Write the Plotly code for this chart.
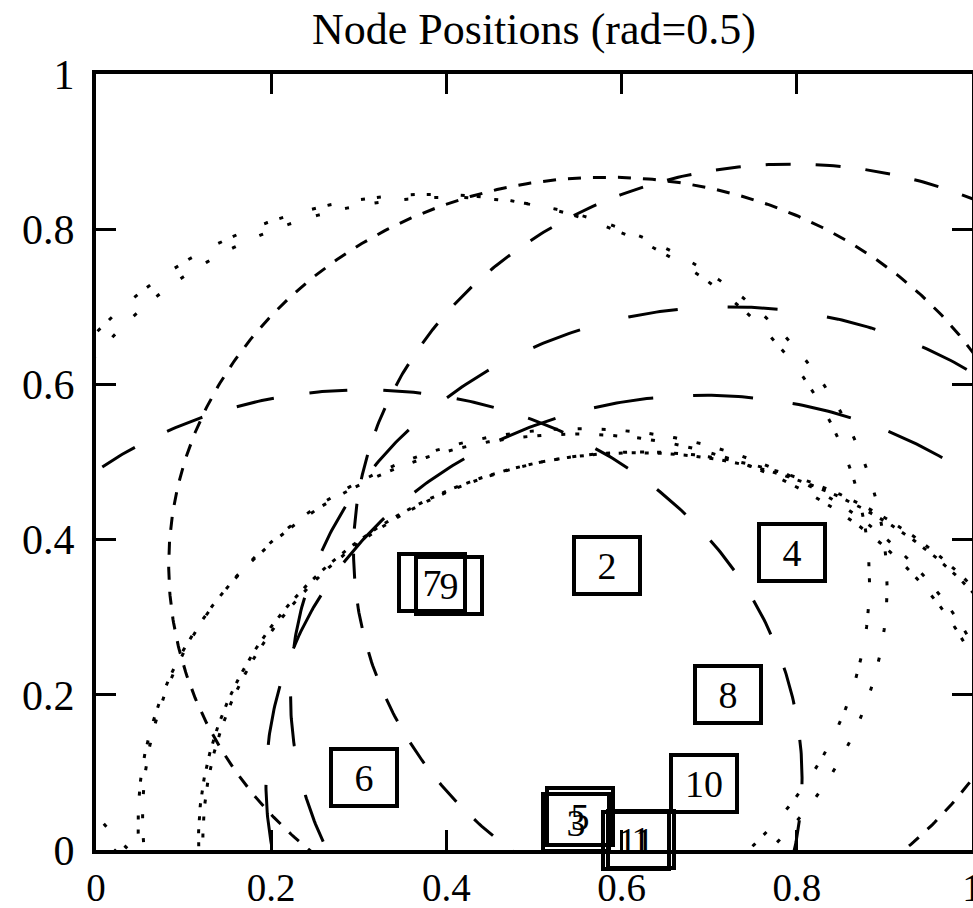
import numpy as np
import plotly.graph_objects as go

# Node layout: every node gets a circle of radius RADIUS around it
RADIUS = 0.5
node_ids = [1, 2, 3, 4, 5, 6, 7, 8, 9, 10, 11]
node_x = [0.622, 0.583, 0.548, 0.794, 0.553, 0.306, 0.383, 0.722, 0.403, 0.694, 0.617]
node_y = [0.013, 0.367, 0.036, 0.384, 0.043, 0.093, 0.345, 0.200, 0.341, 0.086, 0.012]
tick_vals = [0, 0.2, 0.4, 0.6, 0.8, 1]
tick_text = ["0", "0.2", "0.4", "0.6", "0.8", "1"]

# Line style per node (even nodes dashed, odd nodes dotted)
LINE_DASHES = {
    1: "4px,13px",
    2: "13px,12px",
    3: "4px,10px,4px,20px",
    4: "25px,25px",
    5: "4px,20px",
    6: "38px,36px",
    7: "4px,12px,4px,30px",
    8: "50px,50px",
    9: "4px,26px",
    10: "60px,40px",
    11: "4px,9px",
}

SERIF = "Liberation Serif, Times New Roman, serif"

fig = go.Figure()

theta = np.linspace(0.0, 2.0 * np.pi, 721)
for nid, cx, cy in zip(node_ids, node_x, node_y):
    fig.add_trace(go.Scatter(
        x=cx + RADIUS * np.cos(theta),
        y=cy + RADIUS * np.sin(theta),
        mode="lines",
        line=dict(color="black", width=3, dash=LINE_DASHES[nid]),
        hoverinfo="skip",
        showlegend=False,
    ))

# Boxed node labels
for nid, cx, cy in zip(node_ids, node_x, node_y):
    fig.add_annotation(
        x=cx, y=cy, xref="x", yref="y",
        text=str(nid), showarrow=False,
        xanchor="center", yanchor="middle",
        width=62, height=53,
        font=dict(family=SERIF, size=38, color="black"),
        bordercolor="black", borderwidth=4, borderpad=0,
    )

axis_common = dict(
    range=[0, 1],
    tickvals=tick_vals,
    ticktext=tick_text,
    showgrid=False,
    zeroline=False,
    showline=True,
    linecolor="black",
    linewidth=4,
    mirror="ticks",
    ticks="inside",
    ticklen=20,
    tickwidth=3,
    tickcolor="black",
    automargin=False,
)

fig.update_layout(
    width=973,
    height=908,
    margin=dict(l=96, r=1, t=74, b=58),
    paper_bgcolor="white",
    plot_bgcolor="white",
    title=dict(
        text="Node Positions (rad=0.5)",
        font=dict(family=SERIF, size=44, color="black"),
        x=0.5, xref="paper", xanchor="center",
        y=1 - 29 / 908, yref="container", yanchor="middle",
    ),
    xaxis=dict(**axis_common, ticklabelstandoff=0, ticklabeloverflow="allow",
               tickfont=dict(family=SERIF, size=39, color="black")),
    yaxis=dict(**axis_common, ticklabelstandoff=9,
               tickfont=dict(family=SERIF, size=42, color="black")),
)

fig.write_html("out.html")
